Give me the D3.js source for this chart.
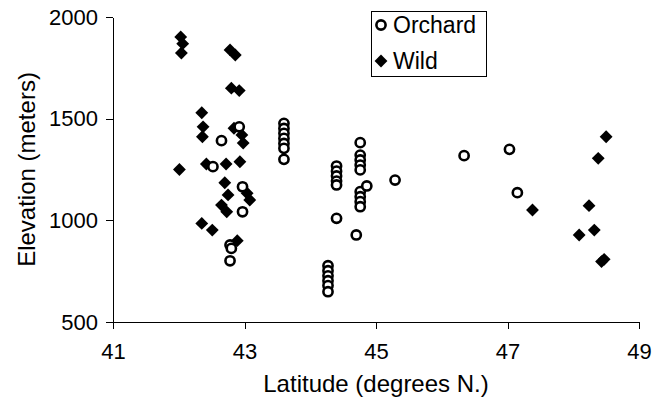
<!DOCTYPE html>
<html lang="en">
<head>
<meta charset="UTF-8">
<title>Elevation vs Latitude</title>
<style>
  body { margin: 0; background: #fff; font-family: "Liberation Sans", Arial, sans-serif; }
  .axis path, .axis line { stroke: #000; shape-rendering: crispEdges; }
  .axis text { font: 22px "Liberation Sans", Arial, sans-serif; fill: #000; }
  .title { font: 24px "Liberation Sans", Arial, sans-serif; fill: #000; }
  .orchard { fill: #fff; stroke: #000; stroke-width: 2.6px; }
  .wild { fill: #000; }
</style>
</head>
<body>
<svg width="652" height="410"></svg>
<script src="https://d3js.org/d3.v7.min.js"></script>
<script>
// values
const orchardLat = [42.65, 42.92, 42.52, 42.97, 42.97, 42.78, 42.80, 42.78,
  43.6, 43.6, 43.6, 43.6, 43.6, 43.6, 43.6,
  44.40, 44.40, 44.40, 44.40, 44.40, 44.40,
  44.27, 44.27, 44.27, 44.27, 44.27, 44.27,
  44.76, 44.76, 44.76, 44.76, 44.76, 44.76, 44.76, 44.76, 44.76,
  44.86, 44.70, 45.29, 46.34, 47.03, 47.15];
const orchardElev = [1392, 1460, 1264, 1165, 1042, 879, 862, 801,
  1477, 1452, 1428, 1403, 1378, 1354, 1300,
  1267, 1242, 1218, 1193, 1174, 1010,
  777, 752, 727, 703, 679, 649,
  1382, 1321, 1297, 1272, 1248, 1141, 1116, 1092, 1067,
  1169, 928, 1198, 1318, 1349, 1136];

const wildLat = [42.03, 42.06, 42.04, 42.78, 42.86, 42.80, 42.92, 42.35, 42.37, 42.36,
  42.84, 42.96, 42.98, 42.01, 42.42, 42.72, 42.93, 42.70, 42.75, 43.04, 43.08,
  42.65, 42.73, 42.35, 42.51, 42.89,
  47.38, 48.50, 48.38, 48.24, 48.32, 48.09, 48.43, 48.47];
const wildElev = [1902, 1869, 1823, 1838, 1813, 1650, 1638, 1529, 1460, 1411,
  1453, 1420, 1380, 1250, 1277, 1277, 1288, 1185, 1125, 1133, 1100,
  1075, 1042, 985, 952, 900,
  1051, 1411, 1305, 1072, 952, 928, 797, 808];

const xTicks = [41, 43, 45, 47, 49];
const yTicks = [500, 1000, 1500, 2000];

const svg = d3.select("svg");
const x = d3.scaleLinear().domain([41, 49]).range([113, 639]);
const y = d3.scaleLinear().domain([500, 2000]).range([322, 17]);

svg.append("g").attr("class", "axis")
  .attr("transform", "translate(0,322)")
  .call(d3.axisBottom(x).tickValues(xTicks).tickFormat(d3.format("d"))
    .tickSize(7).tickSizeOuter(0).tickPadding(14));

svg.append("g").attr("class", "axis")
  .attr("transform", "translate(113,0)")
  .call(d3.axisLeft(y).tickValues(yTicks).tickFormat(d3.format("d"))
    .tickSize(7).tickSizeOuter(0).tickPadding(8));

// y axis line runs a little past the corner
svg.append("line").attr("x1", 113).attr("x2", 113)
  .attr("y1", y(500)).attr("y2", y(500) + 7)
  .attr("stroke", "#000").style("shape-rendering", "crispEdges");

svg.append("text").attr("class", "title")
  .attr("x", x(45)).attr("y", 392).attr("text-anchor", "middle")
  .text("Latitude (degrees N.)");

svg.append("text").attr("class", "title")
  .attr("transform", "translate(35," + y(1250) + ") rotate(-90)")
  .attr("text-anchor", "middle")
  .text("Elevation (meters)");

const diamond = d3.symbol().type(d3.symbolDiamond2).size(105);

svg.append("g").selectAll("path")
  .data(wildLat.map((d, i) => [d, wildElev[i]]))
  .enter().append("path")
  .attr("class", "wild")
  .attr("d", diamond)
  .attr("transform", d => `translate(${x(d[0])},${y(d[1])})`);

svg.append("g").selectAll("circle")
  .data(orchardLat.map((d, i) => [d, orchardElev[i]]))
  .enter().append("circle")
  .attr("class", "orchard")
  .attr("r", 4.6)
  .attr("cx", d => x(d[0]))
  .attr("cy", d => y(d[1]));

// legend
const lg = svg.append("g");
lg.append("rect").attr("x", 371.5).attr("y", 11.5).attr("width", 115).attr("height", 65)
  .attr("fill", "#fff").attr("stroke", "#000");
lg.append("circle").attr("class", "orchard").attr("cx", 381).attr("cy", 25).attr("r", 4.6);
lg.append("path").attr("class", "wild").attr("d", diamond)
  .attr("transform", "translate(381,61)");
lg.append("text").attr("x", 393).attr("y", 33).style("font", "23px 'Liberation Sans', Arial, sans-serif").text("Orchard");
lg.append("text").attr("x", 393).attr("y", 69).style("font", "23px 'Liberation Sans', Arial, sans-serif").text("Wild");
</script>
</body>
</html>
